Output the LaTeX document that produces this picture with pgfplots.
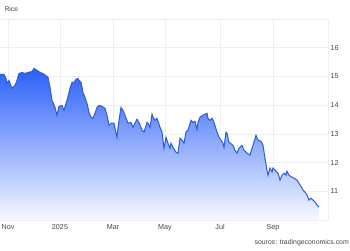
\documentclass[border=0pt]{standalone}
\usepackage{fontspec}
\setmainfont{Liberation Sans}
\usepackage{pgfplots}
\usepackage{pgfplotstable}
\pgfplotsset{compat=1.18}
\definecolor{fillTop}{RGB}{42,96,248}
\definecolor{fillBot}{RGB}{247,249,255}
\definecolor{lineC}{RGB}{45,92,215}
\definecolor{gridC}{RGB}{236,238,242}
\definecolor{txtC}{RGB}{70,70,70}
\pgfplotstableread{
x y
0 15.07
4 15.07
6 14.93
7 14.76
9 14.86
12 14.58
15 14.69
17 14.86
19 15.10
22 15.14
25 15.10
28 15.14
32 15.17
34 15.28
37 15.21
40 15.14
43 15.10
48 14.97
50 14.62
52 14.17
55 13.92
57 13.65
59 13.96
62 13.99
64 13.82
67 14.17
70 14.58
72 14.79
74 14.79
76 14.90
78 14.93
79 14.86
81 14.79
83 14.44
85 14.27
87 14.06
89 13.75
91 13.58
93 13.54
95 13.72
97 13.92
99 13.99
102 13.96
105 13.89
107 13.65
109 13.30
111 13.37
114 13.37
116 13.02
117 12.88
118 13.23
121 13.92
123 13.82
125 13.65
128 13.37
131 13.40
133 13.23
137 13.51
139 13.40
142 13.13
144 13.06
147 13.40
148 13.37
150 13.23
152 13.68
153 13.58
155 13.47
157 13.54
160 13.23
162 13.06
164 12.50
166 12.88
168 12.67
170 12.50
171 12.67
173 12.53
176 12.36
178 12.33
180 12.85
182 12.78
184 12.67
186 13.06
188 13.13
191 13.47
193 13.40
195 13.44
197 13.16
198 13.40
200 13.58
203 13.65
207 13.72
208 13.54
210 13.47
212 13.54
214 13.40
217 13.06
219 12.88
221 12.78
223 12.67
224 12.53
226 13.06
227 13.02
229 12.71
233 12.60
235 12.43
237 12.33
239 12.50
242 12.60
244 12.43
247 12.33
250 12.26
252 12.50
253 12.60
256 12.95
258 12.78
261 12.74
263 12.60
265 12.15
267 11.74
268 11.56
270 11.81
272 11.67
273 11.81
276 11.70
278 11.63
280 11.39
282 11.56
284 11.63
286 11.56
287 11.70
289 11.56
292 11.49
294 11.46
297 11.39
299 11.28
302 11.11
303 11.04
305 10.97
307 10.87
309 10.69
311 10.76
313 10.69
315 10.63
317 10.52
319 10.45
}\ricedata
\begin{document}
\begin{tikzpicture}
\path[use as bounding box] (0,0) rectangle (350pt,250pt);
\begin{axis}[
  at={(0pt,30pt)}, anchor=south west,
  scale only axis, width=328pt, height=201pt,
  xmin=0, xmax=328, ymin=10, ymax=17,
  axis line style={draw=none},
  xtick={8,60,113,165,220,273},
  xticklabels={Nov,2025,Mar,May,Jul,Sep},
  extra x ticks={328}, extra x tick labels={},
  ytick={10,11,12,13,14,15,16,17},
  yticklabels={,11,12,13,14,15,16,},
  yticklabel pos=right,
  major tick length=0pt,
  grid=major,
  major grid style={gridC, line width=0.5pt},
  tick label style={font=\fontsize{7.2}{8}\selectfont, text=txtC},
  xticklabel style={yshift=-1pt},
  yticklabel style={anchor=west, xshift=-1pt},
  /pgf/number format/assume math mode=true,
  clip=true,
]
\addplot[draw=none, top color=fillTop, bottom color=fillBot, shading=axis] table[x=x,y=y]{\ricedata} -- (axis cs:319,10) -- (axis cs:0,10) -- cycle;
\addplot[lineC, line width=1pt, mark=none] table[x=x,y=y]{\ricedata};
\end{axis}
\node[anchor=west, text=txtC, font=\fontsize{6.8}{8}\selectfont] at (1pt,241pt) {Rice};
\node[anchor=east, text=txtC, font=\fontsize{6.9}{8}\selectfont, inner sep=1pt] at (350pt,7pt) {source: tradingeconomics.com};
\end{tikzpicture}
\end{document}
